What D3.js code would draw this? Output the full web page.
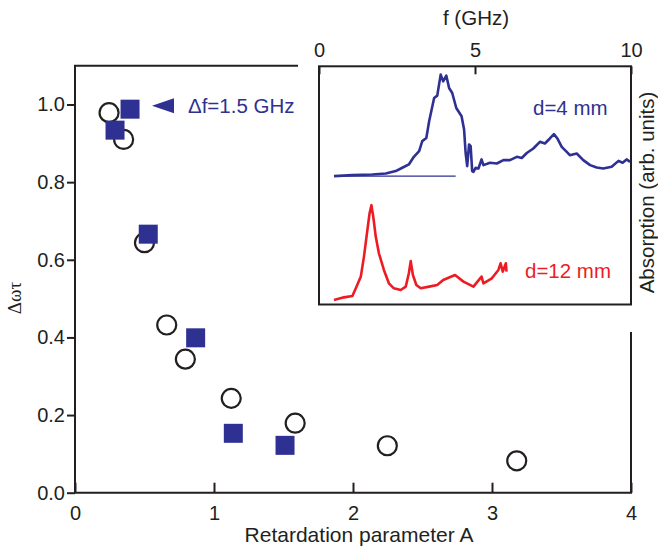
<!DOCTYPE html>
<html>
<head>
<meta charset="utf-8">
<script src="https://cdn.jsdelivr.net/npm/d3@7"></script>
<style>
  html, body { margin: 0; padding: 0; background: #fff; }
  svg { display: block; }
  text { font-family: "Liberation Sans", Arial, Helvetica, sans-serif; }
</style>
</head>
<body>
<svg id="chart" width="658" height="550"></svg>
<script>
// Main panel: damping product vs retardation parameter
const circleA   = [0.245, 0.35, 0.50, 0.66, 0.794, 1.124, 1.584, 2.247, 3.178];
const circleDwt = [0.979, 0.910, 0.644, 0.432, 0.344, 0.243, 0.179, 0.121, 0.082];
const squareA   = [0.396, 0.288, 0.527, 0.868, 1.139, 1.511];
const squareDwt = [0.988, 0.934, 0.666, 0.399, 0.153, 0.122];
const markerKey = { A: 0.633, dwt: 0.997, label: "\u0394f=1.5 GHz" };

const xTicks = [0, 1, 2, 3, 4];
const yTicks = [0, 0.2, 0.4, 0.6, 0.8, 1.0];

// Inset: absorption spectra
const spec4f = [0.48,1.07,1.71,2.14,2.46,2.67,2.88,3.04,3.21,3.31,3.44,3.53,3.69,3.79,3.90,3.98,4.08,4.17,4.27,4.40,4.57,4.65,4.70,4.75,4.81,4.86,4.91,4.95,5.02,5.11,5.21,5.27,5.48,5.70,5.91,6.12,6.34,6.50,6.66,6.87,7.08,7.24,7.40,7.53,7.64,7.78,7.94,8.04,8.26,8.47,8.69,8.90,9.11,9.38,9.60,9.73,9.86,9.97];
const spec4a = [0.539,0.543,0.546,0.550,0.560,0.574,0.588,0.620,0.644,0.686,0.699,0.769,0.867,0.877,0.965,0.937,0.961,0.909,0.888,0.825,0.790,0.735,0.636,0.581,0.672,0.665,0.560,0.557,0.574,0.571,0.609,0.585,0.595,0.592,0.606,0.606,0.620,0.615,0.636,0.655,0.683,0.676,0.697,0.715,0.697,0.662,0.641,0.627,0.634,0.606,0.585,0.575,0.571,0.578,0.603,0.595,0.609,0.599];
const base4f = [0.48, 4.38];
const base4a = [0.539, 0.539];
const spec12f = [0.48,0.80,1.07,1.18,1.34,1.44,1.55,1.62,1.68,1.74,1.82,1.92,2.08,2.24,2.40,2.62,2.78,2.88,2.94,3.01,3.12,3.26,3.53,3.79,3.98,4.36,4.63,4.95,5.21,5.27,5.54,5.75,5.82,5.89,5.99,6.01];
const spec12a = [0.019,0.030,0.036,0.068,0.117,0.200,0.312,0.382,0.417,0.368,0.284,0.215,0.145,0.089,0.068,0.061,0.075,0.131,0.182,0.124,0.082,0.068,0.075,0.082,0.103,0.124,0.096,0.075,0.117,0.089,0.110,0.145,0.173,0.138,0.173,0.138];
const fTicks = [0, 5, 10];

const BLUE = "#2e3192", RED = "#ed1c24", INK = "#231f20";
const TICK_FS = "20px", LABEL_FS = "20.5px", TITLE_FS = "21px";

const svg = d3.select("#chart");

const x = d3.scaleLinear([0, 4], [75, 631]);
const y = d3.scaleLinear([0, 1.1], [492.7, 65.7]);

const fx = d3.scaleLinear([0, 10], [319, 631]);
const ay = d3.scaleLinear([0, 1], [304.5, 66.3]);

// main axes
const gx = svg.append("g").attr("transform", `translate(0,${y(0)})`)
  .call(d3.axisBottom(x).tickValues(xTicks).tickFormat(d3.format("d"))
    .tickSizeInner(-10).tickSizeOuter(0).tickPadding(13));
gx.select(".domain").remove();

const gy = svg.append("g").attr("transform", `translate(${x(0)},0)`)
  .call(d3.axisLeft(y).tickValues(yTicks).tickFormat(d3.format(".1f"))
    .tickSizeInner(8).tickSizeOuter(0).tickPadding(2));
gy.select(".domain").remove();

[gx, gy].forEach(g => {
  g.selectAll("line").attr("stroke", INK).attr("stroke-width", 2);
  g.selectAll("text").attr("fill", INK).style("font-size", TICK_FS)
    .style("font-family", "'Liberation Sans', Arial, sans-serif");
});

// frame, opened where the inset sits
const gapL = fx(0) - 21, gapB = ay(0) + 27.5;
svg.append("path")
  .attr("d", `M${gapL},${y(1.1)}H${x(0)}V${y(0)}H${x(4)}V${gapB}`)
  .attr("fill", "none").attr("stroke", INK).attr("stroke-width", 2);

svg.append("text").attr("x", 359).attr("y", 542)
  .attr("text-anchor", "middle").attr("fill", INK).style("font-size", TITLE_FS)
  .text("Retardation parameter A");

svg.append("text").attr("transform", "translate(21,298) rotate(-90)")
  .attr("text-anchor", "middle").attr("fill", INK)
  .style("font-family", "'Liberation Serif', 'DejaVu Serif', serif").style("font-size", "19px")
  .text("\u0394\u03c9\u03c4");

// data
const circles = circleA.map((a, i) => ({ a, v: circleDwt[i] }));
const squares = squareA.map((a, i) => ({ a, v: squareDwt[i] }));

svg.append("g").selectAll("circle").data(circles).join("circle")
  .attr("cx", d => x(d.a)).attr("cy", d => y(d.v)).attr("r", 9.5)
  .attr("fill", "none").attr("stroke", INK).attr("stroke-width", 2.2);

const sq = 19;
svg.append("g").selectAll("rect").data(squares).join("rect")
  .attr("x", d => x(d.a) - sq / 2).attr("y", d => y(d.v) - sq / 2)
  .attr("width", sq).attr("height", sq).attr("fill", BLUE);

// key marker
const kx = x(markerKey.A), ky = y(markerKey.dwt);
svg.append("path")
  .attr("d", `M${kx - 11},${ky}L${kx + 11},${ky - 7.5}L${kx + 11},${ky + 7.5}Z`)
  .attr("fill", BLUE);
svg.append("text").attr("x", kx + 25).attr("y", ky + 7.5)
  .attr("fill", BLUE).style("font-size", LABEL_FS).text(markerKey.label);

// inset
const inset = svg.append("g");
inset.append("rect").attr("x", fx(0)).attr("y", ay(1))
  .attr("width", fx(10) - fx(0)).attr("height", ay(0) - ay(1))
  .attr("fill", "#fff").attr("stroke", INK).attr("stroke-width", 2);

const gf = inset.append("g").attr("transform", `translate(0,${ay(1)})`)
  .call(d3.axisTop(fx).tickValues(fTicks).tickFormat(d3.format("d"))
    .tickSizeInner(-8).tickSizeOuter(0).tickPadding(9));
gf.select(".domain").remove();
gf.selectAll("line").attr("stroke", INK).attr("stroke-width", 2);
gf.selectAll("text").attr("fill", INK).style("font-size", TICK_FS)
  .style("font-family", "'Liberation Sans', Arial, sans-serif");

inset.append("text").attr("x", 476).attr("y", 25).attr("text-anchor", "middle")
  .attr("fill", INK).style("font-size", LABEL_FS).text("f (GHz)");

inset.append("text").attr("transform", `translate(654,192.5) rotate(-90)`)
  .attr("text-anchor", "middle").attr("fill", INK).style("font-size", "20.5px")
  .text("Absorption (arb. units)");

const line = d3.line().x(d => fx(d[0])).y(d => ay(d[1]));
const zip = (a, b) => a.map((v, i) => [v, b[i]]);

inset.append("path").datum(zip(base4f, base4a)).attr("d", line)
  .attr("fill", "none").attr("stroke", BLUE).attr("stroke-width", 1.3);
inset.append("path").datum(zip(spec4f, spec4a)).attr("d", line)
  .attr("fill", "none").attr("stroke", BLUE).attr("stroke-width", 2.6)
  .attr("stroke-linejoin", "round");
inset.append("path").datum(zip(spec12f, spec12a)).attr("d", line)
  .attr("fill", "none").attr("stroke", RED).attr("stroke-width", 2.6)
  .attr("stroke-linejoin", "round");

inset.append("text").attr("x", 533).attr("y", 115).attr("fill", BLUE)
  .style("font-size", LABEL_FS).text("d=4 mm");
inset.append("text").attr("x", 525).attr("y", 278).attr("fill", RED)
  .style("font-size", LABEL_FS).text("d=12 mm");
</script>
</body>
</html>
